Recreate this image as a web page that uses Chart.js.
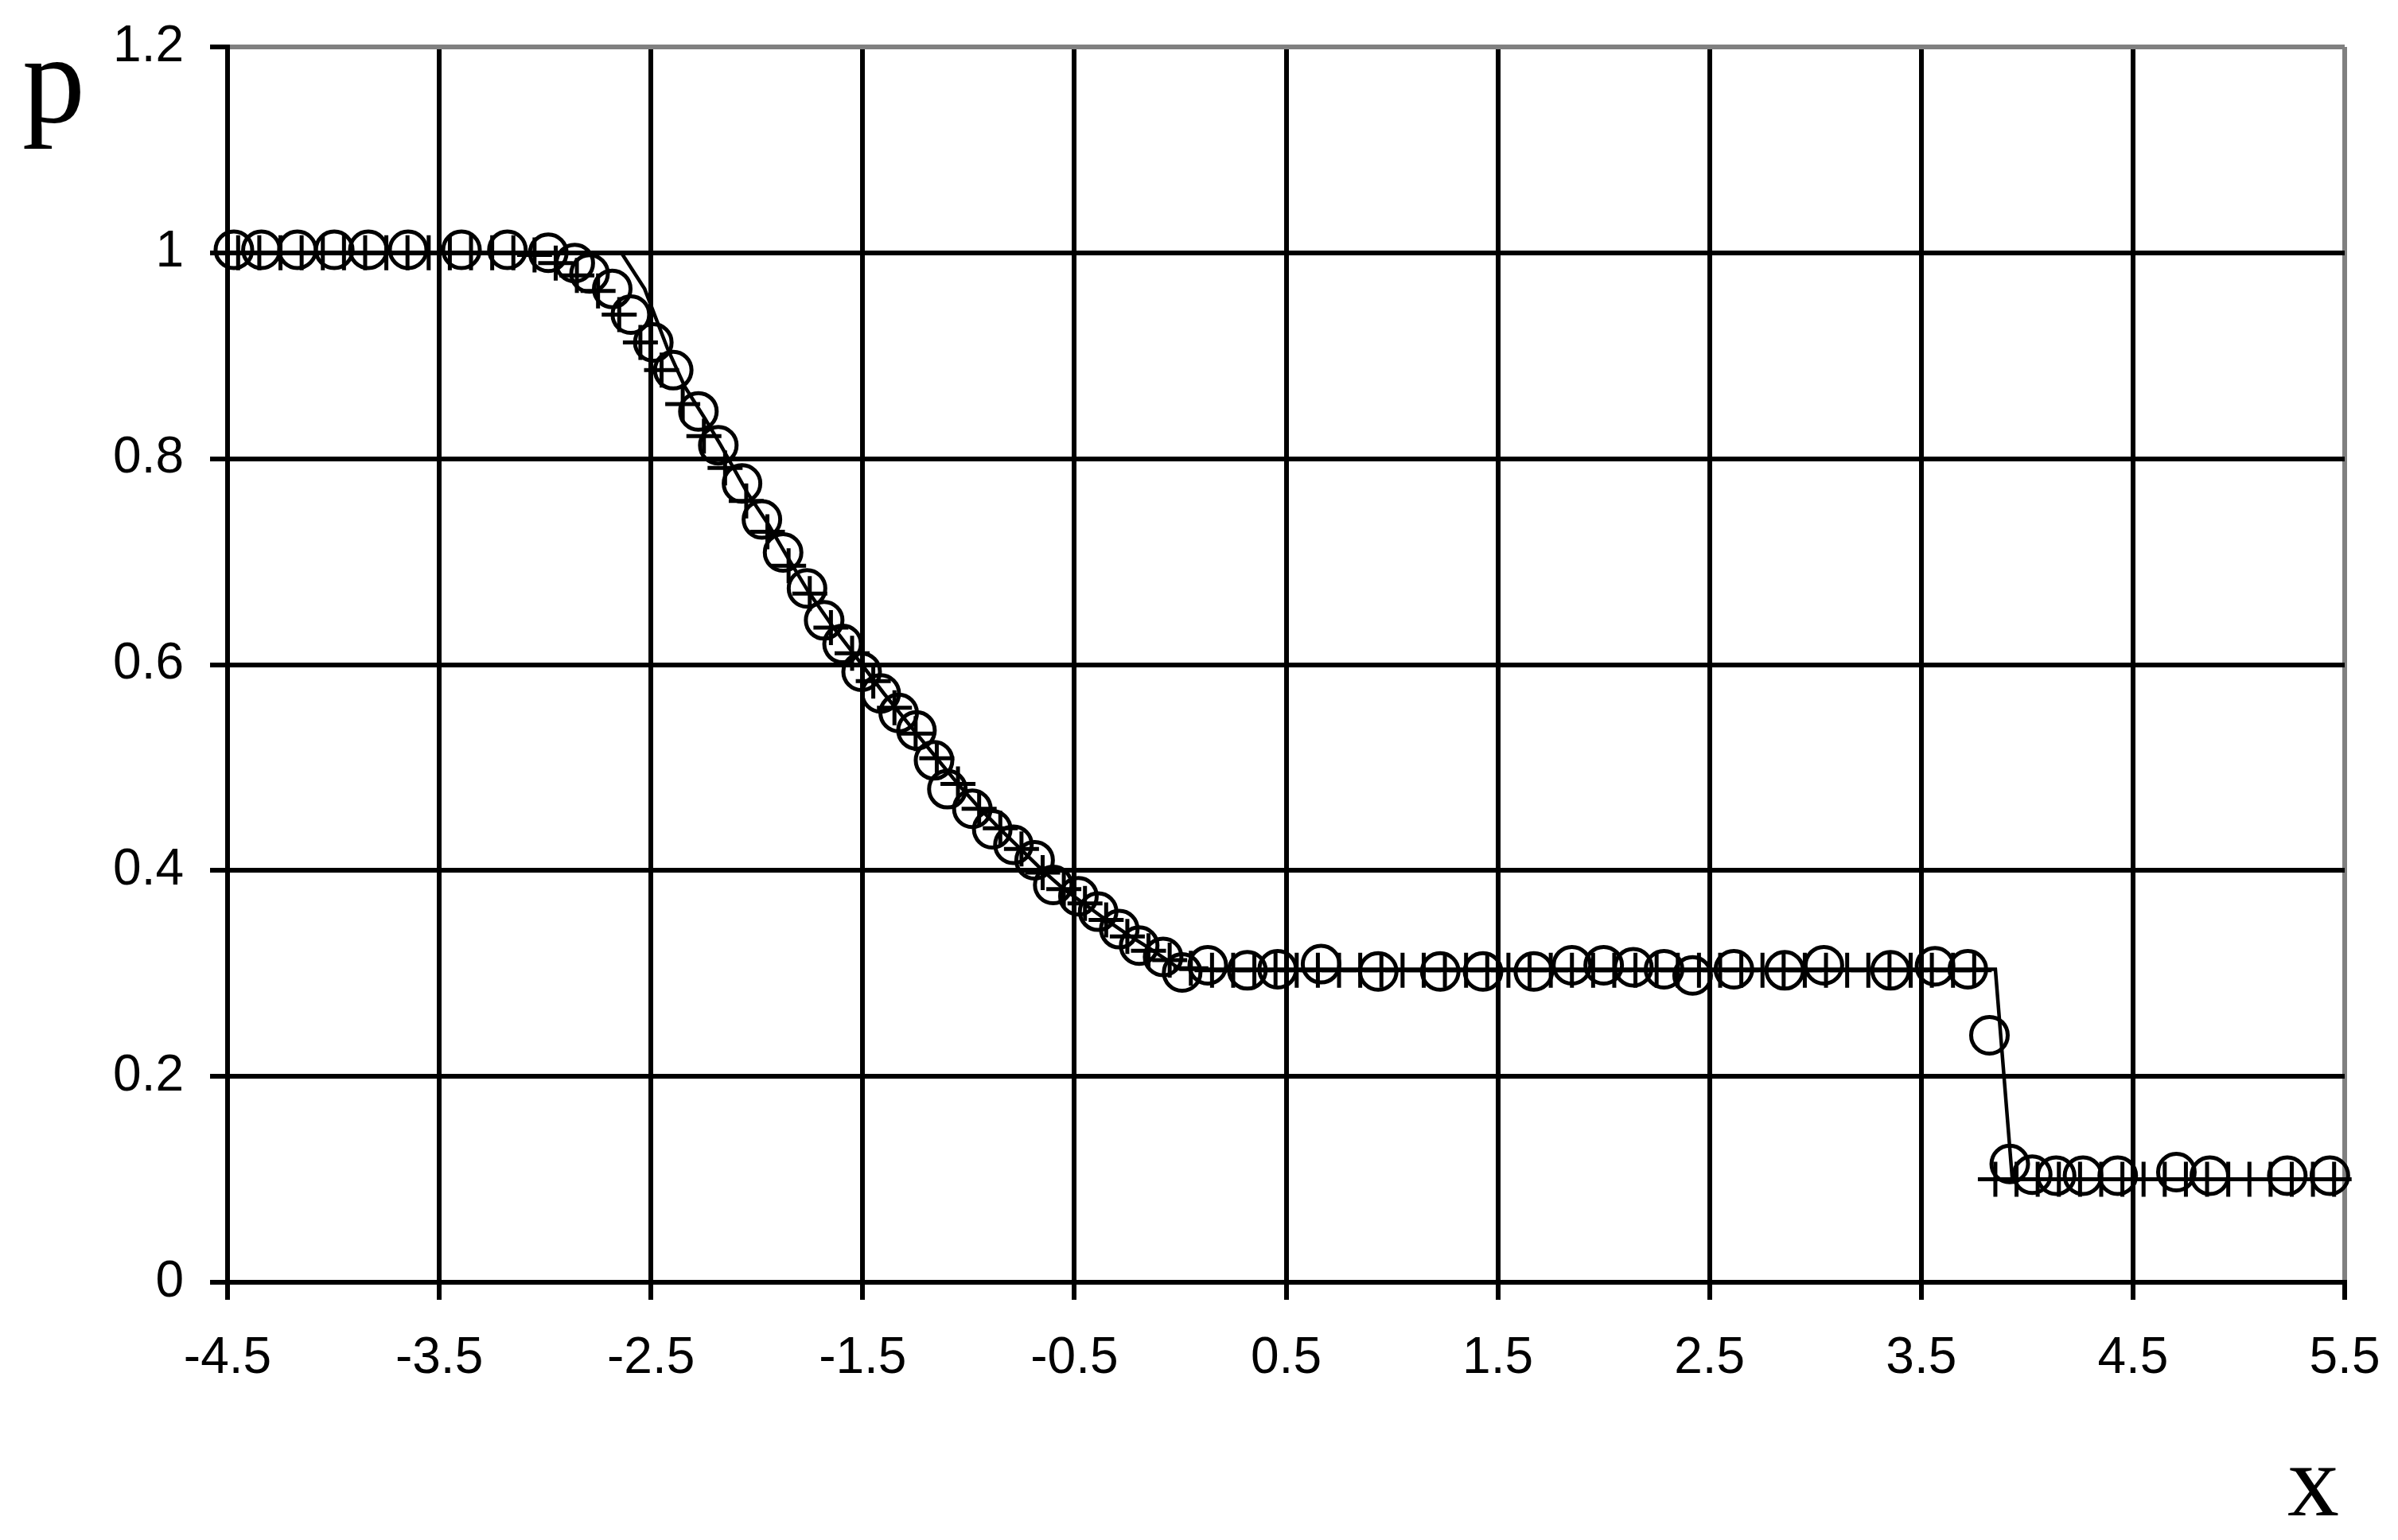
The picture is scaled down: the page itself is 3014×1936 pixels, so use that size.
<!DOCTYPE html>
<html>
<head>
<meta charset="utf-8">
<script src="https://cdn.jsdelivr.net/npm/chart.js@4.4.0/dist/chart.umd.min.js"></script>
<style>
  html, body { margin: 0; padding: 0; background: #fff; overflow: hidden; }
  .plot-wrap { position: relative; width: 3014px; height: 1936px; }
</style>
</head>
<body>
<div class="plot-wrap"><canvas id="pressure"></canvas></div>
<script>
// axis ticks
const xTicks = [-4.5, -3.5, -2.5, -1.5, -0.5, 0.5, 1.5, 2.5, 3.5, 4.5, 5.5];
const yTicks = [0, 0.2, 0.4, 0.6, 0.8, 1, 1.2];
const yTickLabels = ['0', '0.2', '0.4', '0.6', '0.8', '1', '1.2'];

// exact solution (solid line)
const exactX = [-4.5, -2.64, -2.53, -2.42, -2.34, -2.245, -2.17, -2.045, -1.945, -1.857, -1.757, -1.645,
  -1.537, -1.4, -1.25, -1.15, -1.05, -0.95, -0.85, -0.75, -0.65, -0.55, -0.45, -0.35, -0.25, -0.15,
  -0.07, 0.0, 3.85, 3.93, 5.5];
const exactP = [1.0, 1.0, 0.965, 0.906, 0.87, 0.839, 0.813, 0.767, 0.736, 0.705, 0.671, 0.638,
  0.609, 0.572, 0.534, 0.509, 0.484, 0.461, 0.44, 0.42, 0.40, 0.382, 0.367, 0.352, 0.338, 0.325,
  0.314, 0.304, 0.304, 0.1, 0.1];

// circle markers
const circleX = [-4.47, -4.34, -4.17, -3.996, -3.835, -3.647, -3.395, -3.178, -2.985, -2.86, -2.79,
  -2.683, -2.595, -2.489, -2.395, -2.276, -2.182, -2.07, -1.976, -1.876, -1.763, -1.682, -1.595,
  -1.505, -1.415, -1.33, -1.246, -1.163, -1.1, -0.982, -0.888, -0.788, -0.688, -0.6, -0.481, -0.388,
  -0.288, -0.194, -0.081, 0.009, 0.13, 0.317, 0.46, 0.665, 0.935, 1.228, 1.43, 1.67, 1.85, 2.0,
  2.14, 2.285, 2.42, 2.615, 2.855, 3.04, 3.355, 3.565, 3.72, 3.822, 3.918, 4.024, 4.137, 4.264,
  4.428, 4.705, 4.863, 5.229, 5.43];
const circleP = [1.003, 1.003, 1.003, 1.003, 1.003, 1.003, 1.003, 1.003, 1.0, 0.99, 0.98,
  0.965, 0.94, 0.913, 0.886, 0.846, 0.813, 0.776, 0.741, 0.709, 0.674, 0.643, 0.62,
  0.593, 0.572, 0.553, 0.536, 0.507, 0.479, 0.46, 0.44, 0.425, 0.41, 0.386, 0.375, 0.36,
  0.343, 0.327, 0.316, 0.301, 0.308, 0.303, 0.304, 0.309, 0.302, 0.302, 0.302, 0.302, 0.308, 0.308,
  0.306, 0.304, 0.298, 0.304, 0.303, 0.308, 0.303, 0.307, 0.304, 0.24, 0.115, 0.1045, 0.1035, 0.1035,
  0.1035, 0.107, 0.1035, 0.1035, 0.1035];

// plus markers
const plusX = [-4.45, -4.35, -4.25, -4.15, -4.05, -3.95, -3.85, -3.75, -3.65, -3.55,
  -3.45, -3.35, -3.25, -3.15, -3.05, -2.95, -2.85, -2.75, -2.65, -2.55,
  -2.45, -2.35, -2.25, -2.15, -2.05, -1.95, -1.85, -1.75, -1.65, -1.55,
  -1.45, -1.35, -1.25, -1.15, -1.05, -0.95, -0.85, -0.75, -0.65, -0.55,
  -0.45, -0.35, -0.25, -0.15, -0.05, 0.05, 0.15, 0.25, 0.35, 0.45,
  0.55, 0.65, 0.75, 0.85, 0.95, 1.05, 1.15, 1.25, 1.35, 1.45,
  1.55, 1.65, 1.75, 1.85, 1.95, 2.05, 2.15, 2.25, 2.35, 2.45,
  2.55, 2.65, 2.75, 2.85, 2.95, 3.05, 3.15, 3.25, 3.35, 3.45,
  3.55, 3.65, 3.75, 3.85, 3.95, 4.05, 4.15, 4.25, 4.35, 4.45,
  4.55, 4.65, 4.75, 4.85, 4.95, 5.05, 5.15, 5.25, 5.35, 5.45];
const plusP = [1.0, 1.0, 1.0, 1.0, 1.0, 1.0, 1.0, 1.0, 1.0, 1.0,
  1.0, 1.0, 1.0, 1.0, 0.998, 0.99, 0.978, 0.963, 0.94, 0.913,
  0.886, 0.853, 0.822, 0.791, 0.759, 0.729, 0.696, 0.669, 0.636, 0.611,
  0.584, 0.558, 0.533, 0.509, 0.484, 0.46, 0.441, 0.421, 0.398, 0.382,
  0.368, 0.352, 0.336, 0.322, 0.313, 0.305, 0.303, 0.303, 0.303, 0.303,
  0.303, 0.303, 0.303, 0.303, 0.303, 0.303, 0.303, 0.303, 0.303, 0.303,
  0.303, 0.303, 0.303, 0.303, 0.303, 0.303, 0.303, 0.303, 0.303, 0.303,
  0.303, 0.303, 0.303, 0.303, 0.303, 0.303, 0.303, 0.303, 0.303, 0.303,
  0.303, 0.303, 0.303, 0.1, 0.1, 0.1, 0.1, 0.1, 0.1, 0.1,
  0.1, 0.1, 0.1, 0.1, 0.1, 0.1, 0.1, 0.1, 0.1, 0.1];

const toPoints = (xs, ys) => xs.map((x, i) => ({ x: x, y: ys[i] }));

const tickFont = { family: "'Liberation Sans', Arial, sans-serif", size: 64 };
const GRAY = '#808080';

// the "p" and "x" axis letters, upright serif like the original
const axisLetters = {
  id: 'axisLetters',
  afterDraw(chart) {
    const c = chart.ctx;
    const area = chart.chartArea;
    c.save();
    c.fillStyle = '#000';
    c.textBaseline = 'alphabetic';
    c.textAlign = 'left';
    c.font = "158px 'Liberation Serif', 'Times New Roman', serif";
    c.fillText('p', area.left - 258, area.top + 94);
    c.font = "130px 'Liberation Serif', 'Times New Roman', serif";
    c.fillText('x', area.right - 72, area.bottom + 293);
    c.restore();
  }
};

new Chart(document.getElementById('pressure'), {
  type: 'scatter',
  data: {
    datasets: [
      {
        label: 'exact',
        data: toPoints(exactX, exactP),
        showLine: true,
        borderColor: '#000',
        borderWidth: 4.5,
        pointRadius: 0,
        pointHoverRadius: 0,
        fill: false,
        tension: 0
      },
      {
        label: 'circles',
        data: toPoints(circleX, circleP),
        pointStyle: 'circle',
        pointRadius: 23,
        pointHoverRadius: 23,
        pointBorderWidth: 5,
        borderColor: '#000',
        backgroundColor: 'rgba(0,0,0,0)',
        clip: false
      },
      {
        label: 'plus',
        data: toPoints(plusX, plusP),
        pointStyle: 'cross',
        pointRadius: 22,
        pointHoverRadius: 22,
        pointBorderWidth: 5,
        borderColor: '#000',
        backgroundColor: 'rgba(0,0,0,0)',
        clip: false
      }
    ]
  },
  options: {
    responsive: true,
    maintainAspectRatio: false,
    animation: false,
    layout: { padding: { top: 59, right: 67, left: 0, bottom: 0 } },
    plugins: {
      legend: { display: false },
      tooltip: { enabled: false }
    },
    scales: {
      x: {
        type: 'linear',
        min: -4.5,
        max: 5.5,
        afterBuildTicks: (scale) => { scale.ticks = xTicks.map(v => ({ value: v })); },
        afterFit: (scale) => {
          scale.height = 324;
          scale.paddingLeft = 0;
          scale.paddingRight = 0;
        },
        border: { display: true, color: '#000', width: 6 },
        grid: {
          color: (c) => (c.tick && c.tick.value === 5.5 ? GRAY : '#000'),
          lineWidth: 6,
          drawTicks: true,
          tickLength: 22,
          tickColor: '#000',
          tickWidth: 6
        },
        ticks: {
          color: '#000',
          font: tickFont,
          padding: 36,
          maxRotation: 0,
          autoSkip: false,
          callback: (v) => String(v)
        }
      },
      y: {
        type: 'linear',
        min: 0,
        max: 1.2,
        afterBuildTicks: (scale) => { scale.ticks = yTicks.map(v => ({ value: v })); },
        afterFit: (scale) => {
          scale.width = 286;
          scale.paddingTop = 0;
          scale.paddingBottom = 0;
        },
        border: { display: true, color: '#000', width: 6 },
        grid: {
          color: (c) => (c.tick && c.tick.value === 1.2 ? GRAY : '#000'),
          lineWidth: 6,
          drawTicks: true,
          tickLength: 22,
          tickColor: '#000',
          tickWidth: 6
        },
        ticks: {
          color: '#000',
          font: tickFont,
          padding: 33,
          autoSkip: false,
          callback: (v) => {
            const i = yTicks.indexOf(v);
            return i >= 0 ? yTickLabels[i] : '';
          }
        }
      }
    }
  },
  plugins: [axisLetters]
});
</script>
</body>
</html>
